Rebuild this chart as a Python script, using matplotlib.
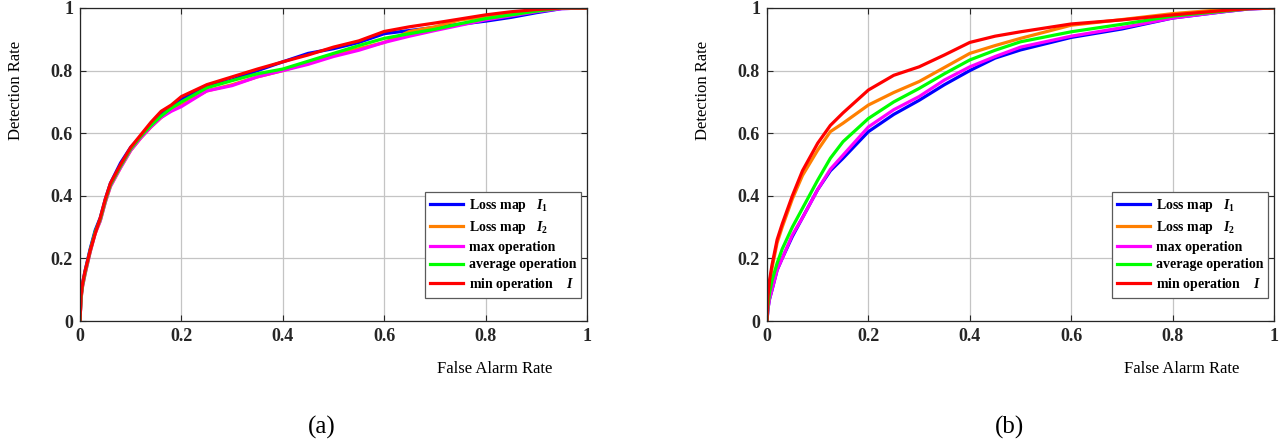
import matplotlib
matplotlib.use("Agg")
import matplotlib.pyplot as plt

plt.rcParams["font.family"] = ["Liberation Serif", "DejaVu Serif"]
plt.rcParams["mathtext.fontset"] = "custom"
plt.rcParams["mathtext.rm"] = "Liberation Serif:bold"
plt.rcParams["mathtext.it"] = "Liberation Serif:bold:italic"
plt.rcParams["mathtext.bf"] = "Liberation Serif:bold"

# panel (a)
far_a = [0, 0.002, 0.005, 0.01, 0.02, 0.03, 0.04, 0.05, 0.06, 0.08, 0.10, 0.12, 0.14, 0.16,
         0.18, 0.20, 0.25, 0.30, 0.35, 0.40, 0.45, 0.50, 0.55, 0.60, 0.65, 0.70, 0.75, 0.80,
         0.85, 0.90, 0.95, 1.0]
loss1_a = [0, 0.08, 0.12, 0.16, 0.23, 0.29, 0.33, 0.39, 0.44, 0.505, 0.555, 0.59, 0.63, 0.66,
           0.685, 0.71, 0.75, 0.77, 0.80, 0.828, 0.855, 0.87, 0.89, 0.918, 0.928, 0.938, 0.948,
           0.958, 0.97, 0.985, 0.998, 1.0]
loss2_a = [0, 0.07, 0.11, 0.15, 0.22, 0.28, 0.32, 0.38, 0.43, 0.49, 0.545, 0.585, 0.62, 0.65,
           0.675, 0.69, 0.735, 0.755, 0.78, 0.80, 0.825, 0.85, 0.87, 0.89, 0.925, 0.94, 0.962,
           0.972, 0.982, 0.992, 1.0, 1.0]
max_a = [0, 0.07, 0.11, 0.15, 0.22, 0.28, 0.32, 0.38, 0.43, 0.49, 0.545, 0.585, 0.62, 0.65,
         0.67, 0.685, 0.735, 0.752, 0.78, 0.80, 0.82, 0.845, 0.865, 0.89, 0.91, 0.928, 0.945,
         0.962, 0.975, 0.988, 0.998, 1.0]
avg_a = [0, 0.075, 0.115, 0.155, 0.225, 0.285, 0.325, 0.385, 0.435, 0.495, 0.55, 0.59, 0.625,
         0.655, 0.68, 0.70, 0.745, 0.768, 0.79, 0.805, 0.83, 0.855, 0.88, 0.903, 0.918, 0.932,
         0.95, 0.966, 0.978, 0.99, 1.0, 1.0]
min_a = [0, 0.08, 0.12, 0.16, 0.225, 0.28, 0.33, 0.39, 0.44, 0.50, 0.555, 0.595, 0.635, 0.67,
         0.69, 0.717, 0.755, 0.78, 0.805, 0.828, 0.85, 0.875, 0.895, 0.925, 0.94, 0.952, 0.965,
         0.978, 0.988, 0.995, 1.0, 1.0]

# panel (b)
far_b = [0, 0.002, 0.005, 0.01, 0.02, 0.03, 0.05, 0.07, 0.1, 0.125, 0.15, 0.2, 0.25, 0.3,
         0.35, 0.4, 0.45, 0.5, 0.6, 0.7, 0.8, 0.9, 0.95, 1.0]
loss1_b = [0, 0.04, 0.07, 0.10, 0.163, 0.20, 0.27, 0.33, 0.42, 0.48, 0.52, 0.605, 0.66, 0.705,
           0.755, 0.80, 0.84, 0.866, 0.906, 0.933, 0.968, 0.988, 0.997, 1.0]
loss2_b = [0, 0.07, 0.12, 0.17, 0.25, 0.30, 0.39, 0.465, 0.546, 0.605, 0.632, 0.69, 0.73, 0.765,
           0.81, 0.855, 0.88, 0.903, 0.945, 0.963, 0.982, 0.995, 1.0, 1.0]
max_b = [0, 0.04, 0.07, 0.10, 0.163, 0.20, 0.275, 0.33, 0.42, 0.485, 0.53, 0.62, 0.675, 0.717,
         0.77, 0.812, 0.845, 0.875, 0.91, 0.937, 0.968, 0.988, 0.997, 1.0]
avg_b = [0, 0.05, 0.09, 0.13, 0.185, 0.23, 0.30, 0.36, 0.45, 0.52, 0.573, 0.647, 0.70, 0.743,
         0.79, 0.834, 0.865, 0.892, 0.924, 0.948, 0.974, 0.99, 0.998, 1.0]
min_b = [0, 0.08, 0.13, 0.18, 0.26, 0.31, 0.40, 0.48, 0.568, 0.625, 0.665, 0.738, 0.785, 0.812,
         0.85, 0.89, 0.91, 0.924, 0.949, 0.962, 0.978, 0.992, 0.998, 1.0]

labels = ["Loss map   $I_1$", "Loss map   $I_2$", "max operation", "average operation",
          "min operation    $I$"]
colors = ["#0000ff", "#ff7f00", "#ff00ff", "#00ff00", "#ff0000"]
ticks = [0, 0.2, 0.4, 0.6, 0.8, 1]
tick_labels = ["0", "0.2", "0.4", "0.6", "0.8", "1"]

W, H = 1286, 441
fig = plt.figure(figsize=(W / 100, H / 100), dpi=100)


def draw_panel(x0, far, series, tag, ylab_x, xlab_x, tag_x):
    ax = fig.add_axes([x0 / W, 1 - 321 / H, 507 / W, 313 / H])
    for ys, c, lab in zip(series, colors, labels):
        ax.plot(far, ys, color=c, lw=2.3, label=lab)
    ax.set_xlim(0, 1)
    ax.set_ylim(0, 1)
    ax.set_xticks(ticks)
    ax.set_yticks(ticks)
    ax.set_xticklabels(tick_labels, fontweight="bold", fontsize=13)
    ax.set_yticklabels(tick_labels, fontweight="bold", fontsize=13)
    ax.tick_params(direction="in", top=True, right=True, length=4, width=0.8, pad=5,
                   colors="#262626")
    ax.grid(True, color="#c4c4c4", lw=0.9)
    for s in ax.spines.values():
        s.set_color("#262626")
        s.set_linewidth(0.9)
    leg = ax.legend(loc="lower right", bbox_to_anchor=(0.988, 0.073), borderaxespad=0,
                    fancybox=False, framealpha=1, edgecolor="#5a5a5a",
                    prop={"weight": "bold", "size": 10}, handlelength=2.4,
                    labelspacing=0.35, handletextpad=0.4, borderpad=0.35)
    leg.get_frame().set_linewidth(0.9)
    fig.text(ylab_x / W, 1 - 90 / H, "Detection Rate", rotation=90, ha="center",
             va="center", fontsize=12)
    fig.text(xlab_x / W, 1 - 369 / H, "False Alarm Rate", ha="center", va="center",
             fontsize=12)
    fig.text(tag_x / W, 1 - 427 / H, tag, ha="center", va="center", fontsize=18)
    return ax


draw_panel(80, far_a, [loss1_a, loss2_a, max_a, avg_a, min_a], "(a)", 16, 495, 322)
draw_panel(767, far_b, [loss1_b, loss2_b, max_b, avg_b, min_b], "(b)", 703, 1182, 1010)

fig.savefig("out.png", dpi=100)
